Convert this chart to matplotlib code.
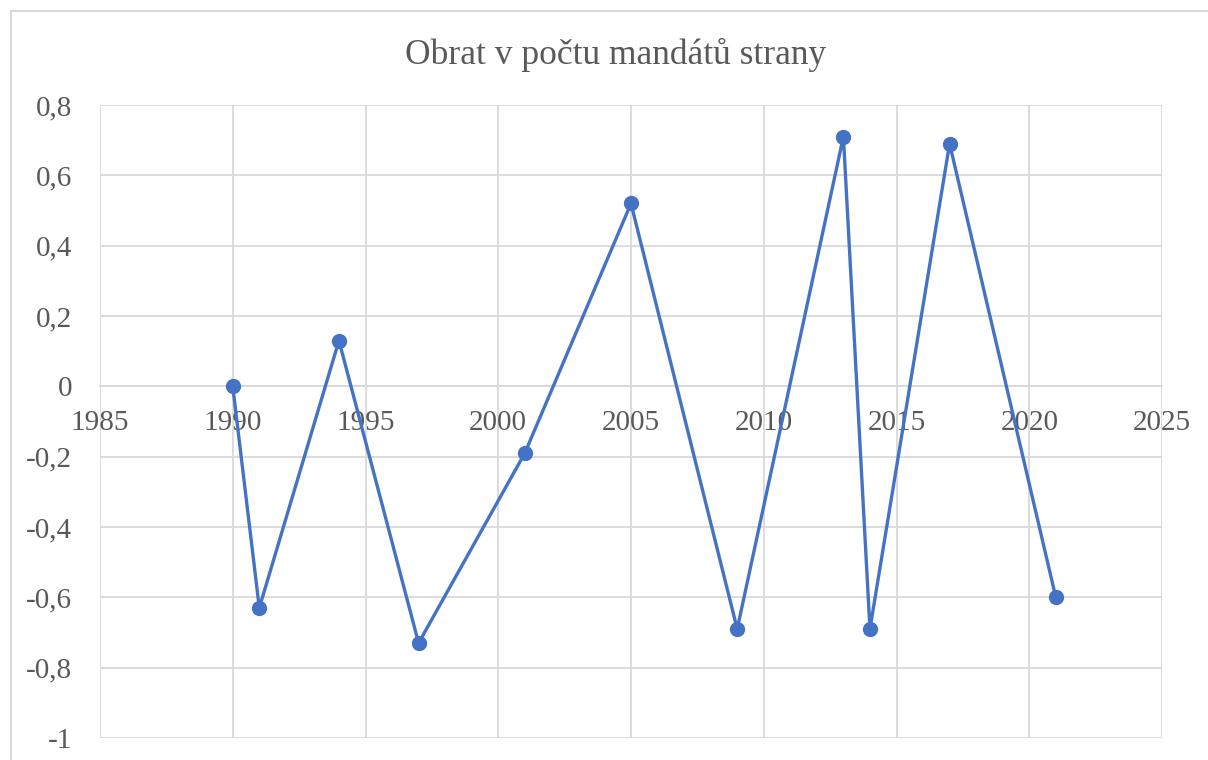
import matplotlib.pyplot as plt
from matplotlib.patches import Rectangle

years = [1990, 1991, 1994, 1997, 2001, 2005, 2009, 2013, 2014, 2017, 2021]
turnover = [0, -0.63, 0.13, -0.73, -0.19, 0.52, -0.69, 0.71, -0.69, 0.69, -0.60]

x_ticks = [1985, 1990, 1995, 2000, 2005, 2010, 2015, 2020, 2025]
y_ticks = [-1, -0.8, -0.6, -0.4, -0.2, 0, 0.2, 0.4, 0.6, 0.8]

plt.rcParams['font.family'] = ['Liberation Serif', 'DejaVu Serif']
text_col = '#595959'
grid_col = '#d9d9d9'

fig = plt.figure(figsize=(12.08, 7.6), dpi=100)
fig.patches.append(Rectangle((11 / 1208, -0.1), 1.2, (760 - 11) / 760 + 0.1,
                             transform=fig.transFigure, fill=False,
                             edgecolor=grid_col, linewidth=1.5))

ax = fig.add_axes([100 / 1208, 22 / 760, 1062 / 1208, 633 / 760])
ax.plot(years, turnover, color='#4472C4', linewidth=2.4, marker='o',
        markersize=10, zorder=3)

ax.set_xlim(1985, 2025)
ax.set_ylim(-1, 0.8)
ax.set_xticks(x_ticks)
ax.set_yticks(y_ticks)
ax.set_yticklabels([('%g' % v).replace('.', ',') for v in y_ticks])
ax.grid(True, color=grid_col, linewidth=1.3)
ax.set_axisbelow(True)

for s in ['top', 'right', 'left']:
    ax.spines[s].set_visible(False)
ax.spines['bottom'].set_position(('data', 0))
ax.spines['bottom'].set_color(grid_col)
ax.spines['bottom'].set_linewidth(1.3)

ax.tick_params(axis='x', length=0, pad=17, labelsize=21, labelcolor=text_col)
ax.tick_params(axis='y', length=0, pad=20, labelsize=21, labelcolor=text_col)

fig.text(616 / 1208, 1 - 55 / 760, 'Obrat v počtu mandátů strany',
         ha='center', va='center', fontsize=25.5, color=text_col)

fig.savefig('out.png', dpi=100)
